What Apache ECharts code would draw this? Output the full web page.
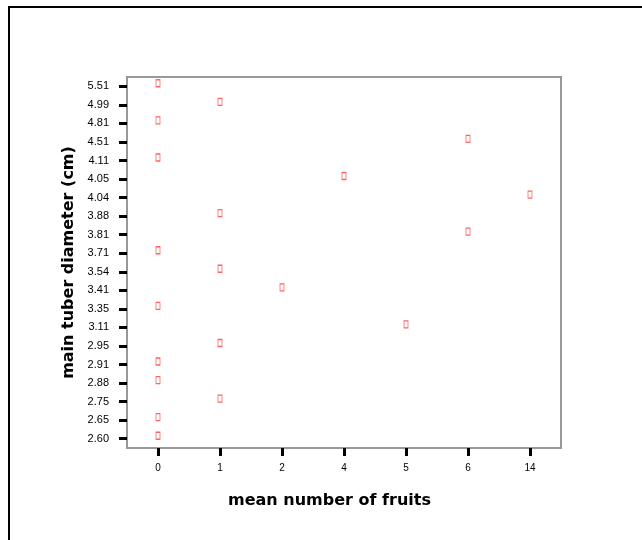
<!DOCTYPE html>
<html>
<head>
<meta charset="utf-8">
<style>
  html, body { margin: 0; padding: 0; background: #fff; }
  #chart { width: 642px; height: 540px; }
</style>
<script src="https://cdn.jsdelivr.net/npm/echarts@6/dist/echarts.min.js"></script>
</head>
<body>
<div id="chart"></div>
<script>
// Category ticks for both axes
const fruitCategories = ['0', '1', '2', '4', '5', '6', '14'];
const diameterCategories = ['2.60', '2.65', '2.75', '2.88', '2.91', '2.95', '3.11', '3.35', '3.41', '3.54',
  '3.71', '3.81', '3.88', '4.04', '4.05', '4.11', '4.51', '4.81', '4.99', '5.51'];

// Observations: mean number of fruits vs. main tuber diameter
const fruits    = ['0', '0', '0', '0', '0', '0', '0', '0', '0', '1', '1', '1', '1', '1', '2', '4', '5', '6', '6', '14'];
const diameters = ['5.51', '4.81', '4.11', '3.71', '3.35', '2.91', '2.88', '2.65', '2.60',
  '4.99', '3.88', '3.54', '2.95', '2.75', '3.41', '4.05', '3.11', '4.51', '3.81', '4.04'];

const points = fruits.map((f, i) => [f, diameters[i]]);

const chart = echarts.init(document.getElementById('chart'));
const font = 'Liberation Sans, Arial, sans-serif';
const narrow = 'Liberation Sans Narrow, Arial Narrow, Liberation Sans, sans-serif';
const titleFont = 'DejaVu Sans, Liberation Sans, sans-serif';

chart.setOption({
  animation: false,
  backgroundColor: '#fff',
  textStyle: { fontFamily: font },
  grid: {
    left: 127, right: 81, top: 77, bottom: 92,
    show: true, borderColor: '#999', borderWidth: 2, backgroundColor: 'transparent'
  },
  xAxis: {
    type: 'category',
    data: fruitCategories,
    boundaryGap: true,
    name: 'mean number of fruits',
    nameLocation: 'middle',
    nameGap: 45,
    nameTextStyle: { fontSize: 16, fontWeight: 'bold', color: '#000', fontFamily: titleFont, padding: [0, 29, 0, 0] },
    axisLine: { show: true, lineStyle: { color: '#999', width: 2 } },
    axisTick: { show: true, alignWithLabel: true, length: 8, lineStyle: { color: '#000', width: 3 } },
    axisLabel: { color: '#000', fontSize: 10, margin: 15, fontFamily: font },
    splitLine: { show: false }
  },
  yAxis: {
    type: 'category',
    data: diameterCategories,
    boundaryGap: true,
    name: 'main tuber diameter (cm)',
    nameLocation: 'middle',
    nameGap: 49,
    nameTextStyle: { fontSize: 16, fontWeight: 'bold', color: '#000', fontFamily: titleFont },
    axisLine: { show: true, lineStyle: { color: '#999', width: 2 } },
    axisTick: { show: true, alignWithLabel: true, length: 8, lineStyle: { color: '#000', width: 3 } },
    axisLabel: { color: '#000', fontSize: 11, margin: 18, fontFamily: narrow },
    splitLine: { show: false }
  },
  series: [{
    type: 'scatter',
    data: points,
    symbol: 'rect',
    symbolSize: [4, 7],
    symbolOffset: [0, -3],
    itemStyle: { color: '#fff', borderColor: '#ff3b3b', borderWidth: 1 }
  }],
  graphic: [
    { type: 'line', shape: { x1: 8, y1: 7, x2: 642, y2: 7 }, style: { stroke: '#000', lineWidth: 2 } },
    { type: 'line', shape: { x1: 9, y1: 6, x2: 9, y2: 540 }, style: { stroke: '#000', lineWidth: 2 } }
  ]
});
</script>
</body>
</html>
